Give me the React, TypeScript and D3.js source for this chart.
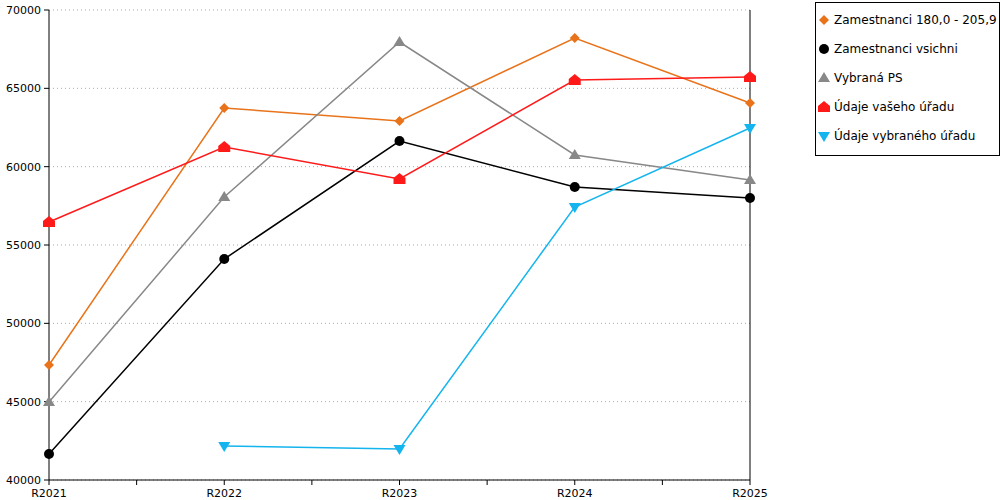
import * as d3 from "d3";

const categories = ["R2021", "R2022", "R2023", "R2024", "R2025"];
const orange = [47340, 63745, 62915, 68213, 64064];
const black = [41660, 54106, 61638, 58702, 58000];
const gray = [44979, 58064, 67957, 60745, 59149];
const red = [56468, 61255, 59213, 65532, 65723];
const blue = [null, 42170, 41979, 57426, 62468];
const yTicks = [40000, 45000, 50000, 55000, 60000, 65000, 70000];

const series = [
  { name: "Zamestnanci 180,0 - 205,9", values: orange, color: "#e8731a", marker: "diamond" },
  { name: "Zamestnanci vsichni", values: black, color: "#000000", marker: "circle" },
  { name: "Vybraná PS", values: gray, color: "#888888", marker: "triangle" },
  { name: "Údaje vašeho úřadu", values: red, color: "#ff1a1a", marker: "house" },
  { name: "Údaje vybraného úřadu", values: blue, color: "#14b4ee", marker: "down" },
];

function Marker({ kind, x, y, color }: { kind: string; x: number; y: number; color: string }) {
  const s = 5;
  if (kind === "circle") return <circle cx={x} cy={y} r={5} fill={color} />;
  if (kind === "diamond")
    return <path d={`M${x},${y - s}L${x + s},${y}L${x},${y + s}L${x - s},${y}Z`} fill={color} />;
  if (kind === "triangle")
    return <path d={`M${x},${y - 6}L${x + 6},${y + 4}L${x - 6},${y + 4}Z`} fill={color} />;
  if (kind === "down")
    return <path d={`M${x - 6},${y - 4}L${x + 6},${y - 4}L${x},${y + 6}Z`} fill={color} />;
  return <path d={`M${x},${y - 6}L${x + 6},${y - 1}L${x + 6},${y + 5}L${x - 6},${y + 5}L${x - 6},${y - 1}Z`} fill={color} />;
}

export default function App() {
  const x = d3.scalePoint<string>().domain(categories).range([49, 750]);
  const y = d3.scaleLinear().domain([40000, 70000]).range([480, 10]);
  const line = d3
    .line<number | null>()
    .defined((d) => d !== null)
    .x((_, i) => x(categories[i])!)
    .y((d) => y(d as number));
  const step = x.step();
  return (
    <svg width={1000} height={500} style={{ position: "absolute", left: 0, top: 0, fontFamily: "DejaVu Sans", fontSize: 11 }}>
      <rect width={1000} height={500} fill="#fff" />
      {yTicks.map((t) => (
        <g key={t}>
          <line x1={49} x2={750} y1={y(t)} y2={y(t)} stroke="#aaa" strokeDasharray="1,3" />
          <line x1={44} x2={49} y1={y(t)} y2={y(t)} stroke="#000" />
          <text x={41} y={y(t) + 4} textAnchor="end">{t}</text>
        </g>
      ))}
      <line x1={49} x2={49} y1={10} y2={480} stroke="#000" />
      <line x1={750} x2={750} y1={10} y2={480} stroke="#000" />
      <line x1={49} x2={750} y1={480} y2={480} stroke="#000" />
      {categories.map((c, i) => (
        <g key={c}>
          <line x1={x(c)} x2={x(c)} y1={480} y2={485} stroke="#000" />
          {i < categories.length - 1 && (
            <line x1={x(c)! + step / 2} x2={x(c)! + step / 2} y1={480} y2={485} stroke="#000" />
          )}
          <text x={x(c)} y={497} textAnchor="middle">{c}</text>
        </g>
      ))}
      {series.map((s) => (
        <g key={s.name}>
          <path d={line(s.values)!} fill="none" stroke={s.color} strokeWidth={1.5} />
          {s.values.map((v, i) =>
            v === null ? null : <Marker key={i} kind={s.marker} x={x(categories[i])!} y={y(v)} color={s.color} />
          )}
        </g>
      ))}
      <rect x={815.5} y={2.5} width={184} height={153} fill="#fff" stroke="#000" />
      {series.map((s, i) => (
        <g key={s.name}>
          <Marker kind={s.marker} x={824} y={20 + i * 29} color={s.color} />
          <text x={834} y={24 + i * 29} fontSize={12}>{s.name}</text>
        </g>
      ))}
    </svg>
  );
}
